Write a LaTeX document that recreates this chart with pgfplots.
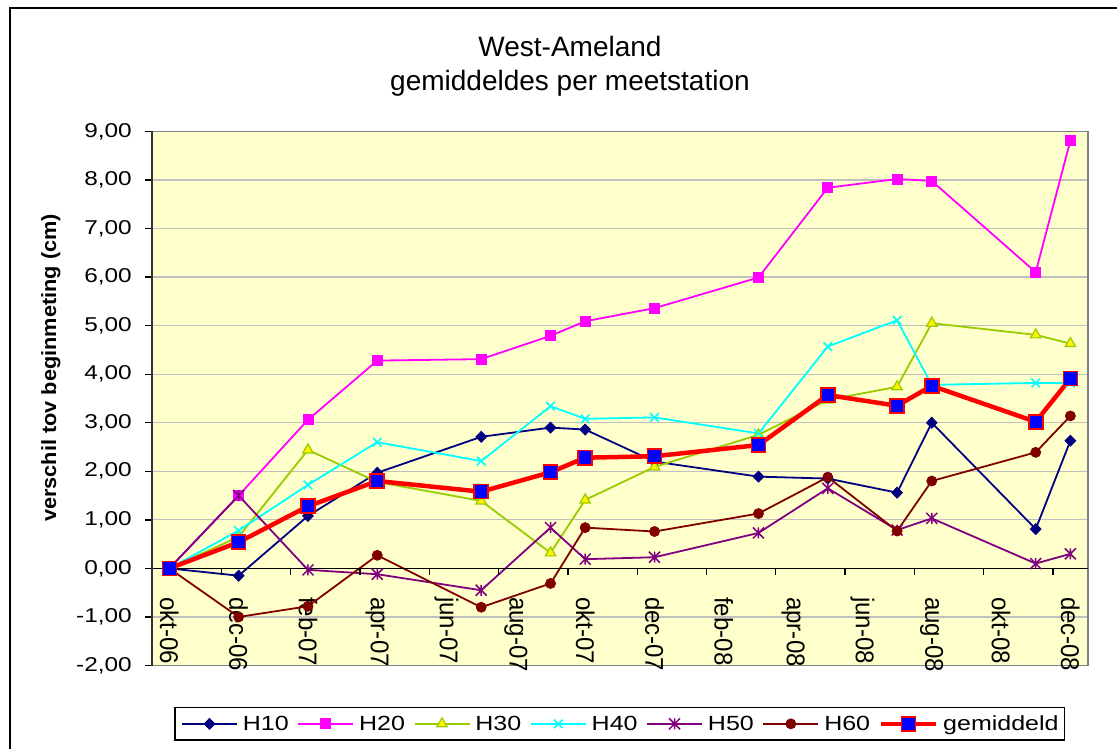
\documentclass[border=0pt]{standalone}
\usepackage{fontspec}
\setmainfont{Liberation Sans}
\newfontfamily\tickfont[FakeStretch=1.22]{Liberation Sans}
\newfontfamily\xlabfont[FakeStretch=0.94]{Liberation Sans}
\newfontfamily\ylabfont[FakeStretch=1.06]{Liberation Sans}
\usepackage{pgfplots}
\pgfplotsset{compat=1.18}

\definecolor{plotbg}{HTML}{FFFFCC}
\definecolor{gridgray}{HTML}{C0C0C0}
\definecolor{framegray}{HTML}{808080}
\definecolor{cHten}{HTML}{000080}
\definecolor{cHtwenty}{HTML}{FF00FF}
\definecolor{cHthirty}{HTML}{99CC00}
\definecolor{cHforty}{HTML}{00FFFF}
\definecolor{cHfifty}{HTML}{800080}
\definecolor{cHsixty}{HTML}{800000}

% Excel style asterisk: x plus a vertical bar
\pgfdeclareplotmark{xstar}{%
  \pgfpathmoveto{\pgfqpoint{0pt}{\pgfplotmarksize}}%
  \pgfpathlineto{\pgfqpoint{0pt}{-\pgfplotmarksize}}%
  \pgfpathmoveto{\pgfqpoint{-\pgfplotmarksize}{\pgfplotmarksize}}%
  \pgfpathlineto{\pgfqpoint{\pgfplotmarksize}{-\pgfplotmarksize}}%
  \pgfpathmoveto{\pgfqpoint{-\pgfplotmarksize}{-\pgfplotmarksize}}%
  \pgfpathlineto{\pgfqpoint{\pgfplotmarksize}{\pgfplotmarksize}}%
  \pgfusepathqstroke}

\begin{document}
\begin{tikzpicture}
\fill[white] (0pt,0pt) rectangle (1117pt,-748pt);
\begin{scope}
\clip (0pt,0pt) rectangle (1117pt,-748pt);
\draw[black, line width=1.5pt] (10pt,-8pt) rectangle (1150pt,-780pt);

\node[font=\fontsize{28}{34}\selectfont, anchor=base] at (570pt,-56.7pt) {West-Ameland};
\node[font=\fontsize{28}{34}\selectfont, anchor=base] at (570pt,-90.5pt) {gemiddeldes per meetstation};

\begin{axis}[
    at={(152pt,-131.4pt)}, anchor=north west,
    width=935.7pt, height=534.1pt, scale only axis,
    xmin=-0.5, xmax=26.5,
    ymin=-2, ymax=9,
    axis background/.style={fill=plotbg},
    axis line style={draw=framegray, line width=1.8pt},
    ymajorgrids,
    grid style={gridgray, line width=1.2pt},
    ytick={-2,-1,...,9},
    ytick pos=left,
    tick align=outside,
    major tick length=7pt,
    every tick/.style={black, line width=1.3pt},
    every x tick/.style={draw=none},
    yticklabel style={font=\fontsize{20}{24}\tickfont, anchor=east, inner sep=0pt, xshift=-13pt},
    /pgf/number format/.cd, fixed, fixed zerofill, precision=2, use comma, assume math mode=true,
    /pgfplots/.cd,
    xtick={0,2,...,26},
    xticklabels={okt-06,dec-06,feb-07,apr-07,jun-07,aug-07,okt-07,dec-07,feb-08,apr-08,jun-08,aug-08,okt-08,dec-08},
    xticklabel style={font=\fontsize{25.6}{30}\xlabfont, rotate=-90, anchor=west, inner sep=0pt, xshift=1.5pt},
    xticklabel shift=-77pt,
    ylabel={verschil tov beginmeting (cm)},
    every axis y label/.style={at={(axis description cs:-0.108,0.557)}, rotate=90, anchor=center,
        font=\fontsize{20.5}{24}\ylabfont\bfseries},
    legend columns=-1,
    legend style={at={(0.5,-0.0777)}, anchor=north, draw=black, line width=1.3pt, fill=white,
        font=\fontsize{20.5}{24}\tickfont, inner xsep=6pt, inner ysep=8pt,
        nodes={inner sep=0pt},
        /tikz/every even column/.append style={column sep=8.6pt},
        /tikz/every odd column/.append style={column sep=5pt}},
    legend image code/.code={\draw[mark repeat=2,mark phase=2] plot coordinates {(0pt,0pt) (27.5pt,0pt) (55pt,0pt)};},
    clip=false,
]
\addplot[cHten, line width=1.8pt, mark=diamond*, mark size=5.5pt, mark options={solid, fill=cHten, line width=0.8pt, xscale=1.3}] coordinates {
    (0,0) (2,-0.15) (4,1.08) (6,1.97) (9,2.71) (11,2.90) (12,2.86) (14,2.20) (17,1.89) (19,1.85) (21,1.56) (22,3.00) (25,0.81) (26,2.63)
};
\addplot[cHtwenty, line width=1.8pt, mark=square*, mark size=5pt, mark options={fill=cHtwenty, line width=0.8pt}] coordinates {
    (0,0) (2,1.50) (4,3.06) (6,4.28) (9,4.31) (11,4.79) (12,5.09) (14,5.36) (17,5.99) (19,7.84) (21,8.02) (22,7.98) (25,6.10) (26,8.81)
};
\addplot[cHthirty, line width=1.8pt, mark=triangle*, mark size=6pt, mark options={fill=yellow, draw=cHthirty, line width=1.2pt}] coordinates {
    (0,0) (2,0.65) (4,2.44) (6,1.78) (9,1.39) (11,0.32) (12,1.41) (14,2.09) (17,2.75) (19,3.47) (21,3.74) (22,5.05) (25,4.81) (26,4.63)
};
\addplot[cHforty, line width=1.8pt, mark=x, mark size=6pt, mark options={line width=1.6pt}] coordinates {
    (0,0) (2,0.78) (4,1.72) (6,2.60) (9,2.21) (11,3.34) (12,3.08) (14,3.11) (17,2.78) (19,4.57) (21,5.11) (22,3.78) (25,3.82) (26,3.82)
};
\addplot[cHfifty, line width=1.8pt, mark=xstar, mark size=5.5pt, mark options={line width=1.5pt}] coordinates {
    (0,0) (2,1.50) (4,-0.03) (6,-0.12) (9,-0.45) (11,0.84) (12,0.19) (14,0.23) (17,0.73) (19,1.65) (21,0.79) (22,1.03) (25,0.10) (26,0.30)
};
\addplot[cHsixty, line width=1.8pt, mark=*, mark size=5pt, mark options={fill=cHsixty, line width=0.8pt}] coordinates {
    (0,0) (2,-1.00) (4,-0.78) (6,0.27) (9,-0.80) (11,-0.31) (12,0.84) (14,0.76) (17,1.13) (19,1.88) (21,0.77) (22,1.80) (25,2.39) (26,3.14)
};
\addplot[red, line width=4.5pt, mark=square*, mark size=7pt, mark options={fill=blue, draw=red, line width=1.6pt}] coordinates {
    (0,0) (2,0.54) (4,1.28) (6,1.80) (9,1.58) (11,1.98) (12,2.28) (14,2.31) (17,2.54) (19,3.57) (21,3.35) (22,3.76) (25,3.02) (26,3.91)
};
\legend{H10,H20,H30,H40,H50,H60,gemiddeld}

% axis at zero with Excel's between-label tick marks, dark left axis
\draw[black, line width=1.5pt] (axis cs:-0.5,0) -- (axis cs:26.5,0);
\pgfplotsinvokeforeach{1.5,3.5,...,25.5}{\draw[black, line width=1.3pt] (axis cs:#1,0) -- ++(0pt,-7pt);}
\draw[black!80, line width=1.8pt] (rel axis cs:0,0) -- (rel axis cs:0,1);
\end{axis}
\end{scope}
\pgfresetboundingbox
\path[use as bounding box] (0pt,0pt) rectangle (1117pt,-748pt);
\end{tikzpicture}
\end{document}
